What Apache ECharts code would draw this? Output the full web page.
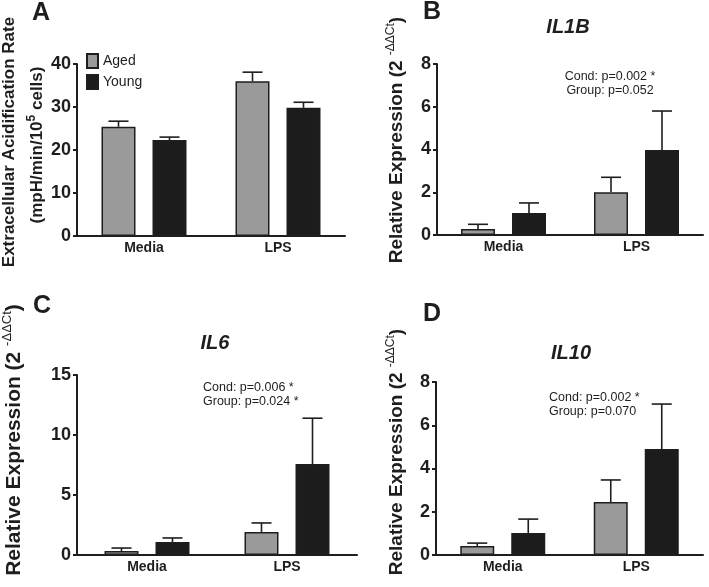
<!DOCTYPE html>
<html>
<head>
<meta charset="utf-8">
<script src="https://cdn.jsdelivr.net/npm/echarts@6/dist/echarts.min.js"></script>
<style>
  html, body { margin: 0; padding: 0; background: #fff; }
  #main { width: 709px; height: 587px; }
</style>
</head>
<body>
<div id="main"></div>
<script>
// categories + values (mean and upper error)
var categories = ['Media', 'LPS'];

var ecarAged = [25.4, 36.0];
var ecarAgedErr = [1.3, 2.1];
var ecarYoung = [22.3, 29.8];
var ecarYoungErr = [0.7, 1.3];

var il1bAged = [0.28, 2.0];
var il1bAgedErr = [0.22, 0.7];
var il1bYoung = [1.03, 3.98];
var il1bYoungErr = [0.47, 1.82];

var il6Aged = [0.33, 1.92];
var il6AgedErr = [0.25, 0.75];
var il6Young = [1.08, 7.58];
var il6YoungErr = [0.34, 3.82];

var il10Aged = [0.42, 2.45];
var il10AgedErr = [0.13, 1.02];
var il10Young = [1.02, 4.9];
var il10YoungErr = [0.64, 2.08];

var yTicks = [[0, 40, 10], [0, 8, 2], [0, 15, 5], [0, 8, 2]]; // min, max, interval

var FONT = '"Liberation Sans", Arial, Helvetica, sans-serif';
var INK = '#1e1e1e';
var BAR_W = 34, HALF_OFF = 25.5;

var myChart = echarts.init(document.getElementById('main'));

var grids = [
    { left: 77, top: 64, width: 268, height: 172 },
    { left: 437, top: 64, width: 266, height: 171 },
    { left: 77, top: 375, width: 280, height: 180 },
    { left: 436, top: 382, width: 267, height: 173 }
];

function errPoints(means, errs, side) {
    return means.map(function (m, i) { return [i, m, errs[i], side]; });
}

function renderErr(params, api) {
    var i = api.value(0), m = api.value(1), e = api.value(2), side = api.value(3);
    var base = api.coord([i, m]);
    var top = api.coord([i, m + e]);
    var x = base[0] + side * HALF_OFF;
    var st = { stroke: INK, lineWidth: 1.6 };
    return {
        type: 'group',
        children: [
            { type: 'line', shape: { x1: x, y1: base[1], x2: x, y2: top[1] }, style: st },
            { type: 'line', shape: { x1: x - 10, y1: top[1], x2: x + 10, y2: top[1] }, style: st }
        ]
    };
}

var xAxes = [], yAxes = [], series = [];
var panels = [
    [ecarAged, ecarAgedErr, ecarYoung, ecarYoungErr],
    [il1bAged, il1bAgedErr, il1bYoung, il1bYoungErr],
    [il6Aged, il6AgedErr, il6Young, il6YoungErr],
    [il10Aged, il10AgedErr, il10Young, il10YoungErr]
];

panels.forEach(function (p, k) {
    xAxes.push({
        gridIndex: k, type: 'category', data: categories,
        axisLine: { lineStyle: { color: INK, width: 2 } },
        axisTick: { alignWithLabel: true, length: 4, lineStyle: { color: INK, width: 1.5 } },
        axisLabel: { margin: 5, fontFamily: FONT, fontWeight: 'bold', fontSize: 14, color: INK }
    });
    yAxes.push({
        gridIndex: k, type: 'value', min: yTicks[k][0], max: yTicks[k][1], interval: yTicks[k][2],
        splitLine: { show: false },
        axisLine: { show: true, lineStyle: { color: INK, width: 2 } },
        axisTick: { show: true, length: 4, lineStyle: { color: INK, width: 2 } },
        axisLabel: { margin: 6, fontFamily: FONT, fontWeight: 'bold', fontSize: 18, color: INK }
    });
    series.push({
        name: 'Aged', type: 'bar', xAxisIndex: k, yAxisIndex: k, data: p[0],
        barWidth: BAR_W, barGap: '50%',
        itemStyle: { color: '#9a9a9a', borderColor: INK, borderWidth: 1.5 }
    });
    series.push({
        name: 'Young', type: 'bar', xAxisIndex: k, yAxisIndex: k, data: p[2],
        barWidth: BAR_W, barGap: '50%',
        itemStyle: { color: '#1c1c1c', borderColor: INK, borderWidth: 1.5 }
    });
    series.push({
        type: 'custom', xAxisIndex: k, yAxisIndex: k, z: 5,
        data: errPoints(p[0], p[1], -1).concat(errPoints(p[2], p[3], 1)),
        renderItem: renderErr, silent: true
    });
});

function txt(x, y, text, size, opts) {
    opts = opts || {};
    return {
        type: 'text', x: x, y: y, rotation: opts.rot || 0, silent: true,
        style: {
            text: text, fill: INK, fontFamily: FONT,
            fontSize: size, fontWeight: opts.weight || 'normal', fontStyle: opts.style || 'normal',
            align: opts.align || 'center', verticalAlign: 'middle', rich: opts.rich
        }
    };
}

function exprRich(size) {
    return {
        m: { fontFamily: FONT, fontSize: size, fontWeight: 'bold', color: INK, lineHeight: size + 6 },
        s: { fontFamily: FONT, fontSize: Math.round(size * 0.62), color: INK, lineHeight: 11, verticalAlign: 'top' }
    };
}
var exprTitle = '{m|Relative Expression (2 }{s|-ΔΔCt}{m|)}';

var graphics = [
    txt(41, 13, 'A', 25, { weight: 'bold' }),
    txt(432, 12, 'B', 25, { weight: 'bold' }),
    txt(42, 306, 'C', 25, { weight: 'bold' }),
    txt(432, 314, 'D', 25, { weight: 'bold' }),

    txt(9, 142, 'Extracellular Acidification Rate', 17, { weight: 'bold', rot: Math.PI / 2 }),
    txt(37, 145, '{m|(mpH/min/10}{s|5}{m| cells)}', 17, { rot: Math.PI / 2, rich: {
        m: { fontFamily: FONT, fontSize: 17, fontWeight: 'bold', color: INK, lineHeight: 22 },
        s: { fontFamily: FONT, fontSize: 12, fontWeight: 'bold', color: INK, lineHeight: 12, verticalAlign: 'top' }
    } }),
    txt(397, 140, exprTitle, 19, { rot: Math.PI / 2, rich: exprRich(19) }),
    txt(14, 440, exprTitle, 21, { rot: Math.PI / 2, rich: exprRich(21) }),
    txt(397, 452, exprTitle, 19, { rot: Math.PI / 2, rich: exprRich(19) }),

    txt(568, 27, 'IL1B', 20, { weight: 'bold', style: 'italic' }),
    txt(215, 343, 'IL6', 20, { weight: 'bold', style: 'italic' }),
    txt(571, 353, 'IL10', 20, { weight: 'bold', style: 'italic' }),

    txt(610, 77, 'Cond: p=0.002 *', 12.5),
    txt(610, 91, 'Group: p=0.052', 12.5),
    txt(203, 388, 'Cond: p=0.006 *', 12.5, { align: 'left' }),
    txt(203, 402, 'Group: p=0.024 *', 12.5, { align: 'left' }),
    txt(549, 398, 'Cond: p=0.002 *', 12.5, { align: 'left' }),
    txt(549, 412, 'Group: p=0.070', 12.5, { align: 'left' })
];

option = {
    animation: false,
    backgroundColor: '#fff',
    legend: {
        data: ['Aged', 'Young'], orient: 'vertical', left: 81, top: 48,
        icon: 'rect', itemWidth: 11, itemHeight: 14, itemGap: 5,
        textStyle: { fontFamily: FONT, fontSize: 14, color: INK }
    },
    grid: grids,
    xAxis: xAxes,
    yAxis: yAxes,
    series: series,
    graphic: graphics
};

myChart.setOption(option);
</script>
</body>
</html>
